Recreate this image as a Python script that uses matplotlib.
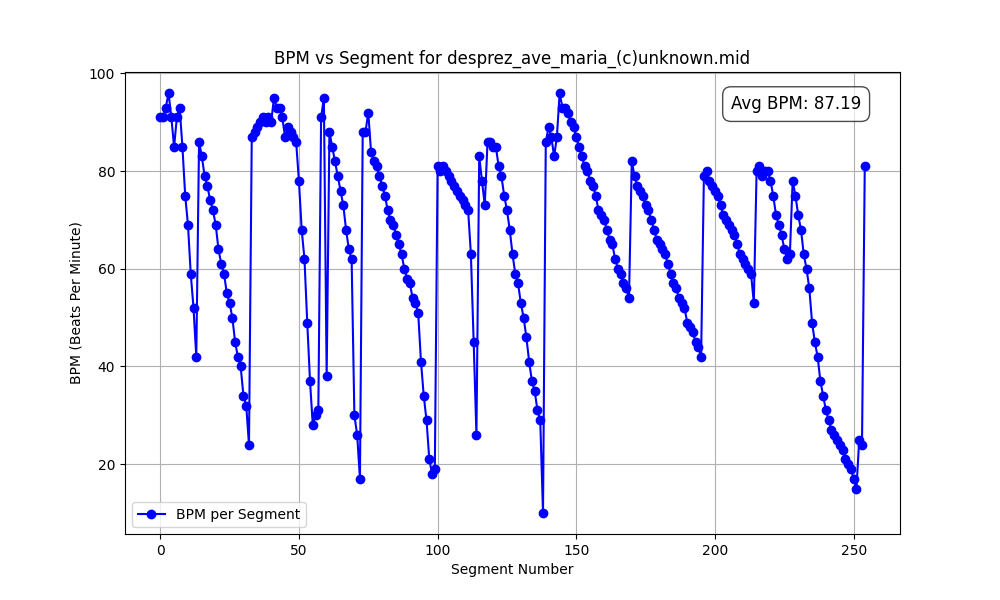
import matplotlib
matplotlib.use("Agg")
import matplotlib.pyplot as plt

bpm = [
    91, 91, 93, 96, 91, 85, 91, 93, 85, 75,
    69, 59, 52, 42, 86, 83, 79, 77, 74, 72,
    69, 64, 61, 59, 55, 53, 50, 45, 42, 40,
    34, 32, 24, 87, 88, 89, 90, 91, 90, 91,
    90, 95, 93, 93, 91, 87, 89, 88, 87, 86,
    78, 68, 62, 49, 37, 28, 30, 31, 91, 95,
    38, 88, 85, 82, 79, 76, 73, 68, 64, 62,
    30, 26, 17, 88, 88, 92, 84, 82, 81, 79,
    77, 75, 72, 70, 69, 67, 65, 63, 60, 58,
    57, 54, 53, 51, 41, 34, 29, 21, 18, 19,
    81, 80, 81, 80, 79, 78, 77, 76, 75, 74,
    73, 72, 63, 45, 26, 83, 78, 73, 86, 86,
    85, 85, 81, 79, 75, 72, 68, 63, 59, 57,
    53, 50, 46, 41, 37, 35, 31, 29, 10, 86,
    89, 87, 83, 87, 96, 93, 93, 92, 90, 89,
    87, 85, 83, 81, 80, 78, 77, 75, 72, 71,
    70, 68, 66, 65, 62, 60, 59, 57, 56, 54,
    82, 79, 77, 76, 75, 73, 72, 70, 68, 66,
    65, 64, 63, 61, 59, 57, 56, 54, 53, 52,
    49, 48, 47, 45, 44, 42, 79, 80, 78, 77,
    76, 75, 73, 71, 70, 69, 68, 67, 65, 63,
    62, 61, 60, 59, 53, 80, 81, 79, 80, 80,
    78, 75, 71, 69, 67, 64, 62, 63, 78, 75,
    71, 68, 63, 60, 56, 49, 45, 42, 37, 34,
    31, 29, 27, 26, 25, 24, 23, 21, 20, 19,
    17, 15, 25, 24, 81,
]
segments = list(range(len(bpm)))
avg_label = "Avg BPM: 87.19"
title = "BPM vs Segment for desprez_ave_maria_(c)unknown.mid"

fig, ax = plt.subplots(figsize=(10, 6), dpi=100)
ax.plot(segments, bpm, marker='o', linestyle='-', color='blue', label='BPM per Segment')
ax.set_title(title)
ax.set_xlabel('Segment Number')
ax.set_ylabel('BPM (Beats Per Minute)')
ax.grid(True)
ax.legend(loc='lower left')
ax.text(0.95, 0.95, avg_label, transform=ax.transAxes, fontsize=12,
        ha='right', va='top',
        bbox=dict(boxstyle='round,pad=0.5', facecolor='white', alpha=0.7))
fig.savefig('out.png')
